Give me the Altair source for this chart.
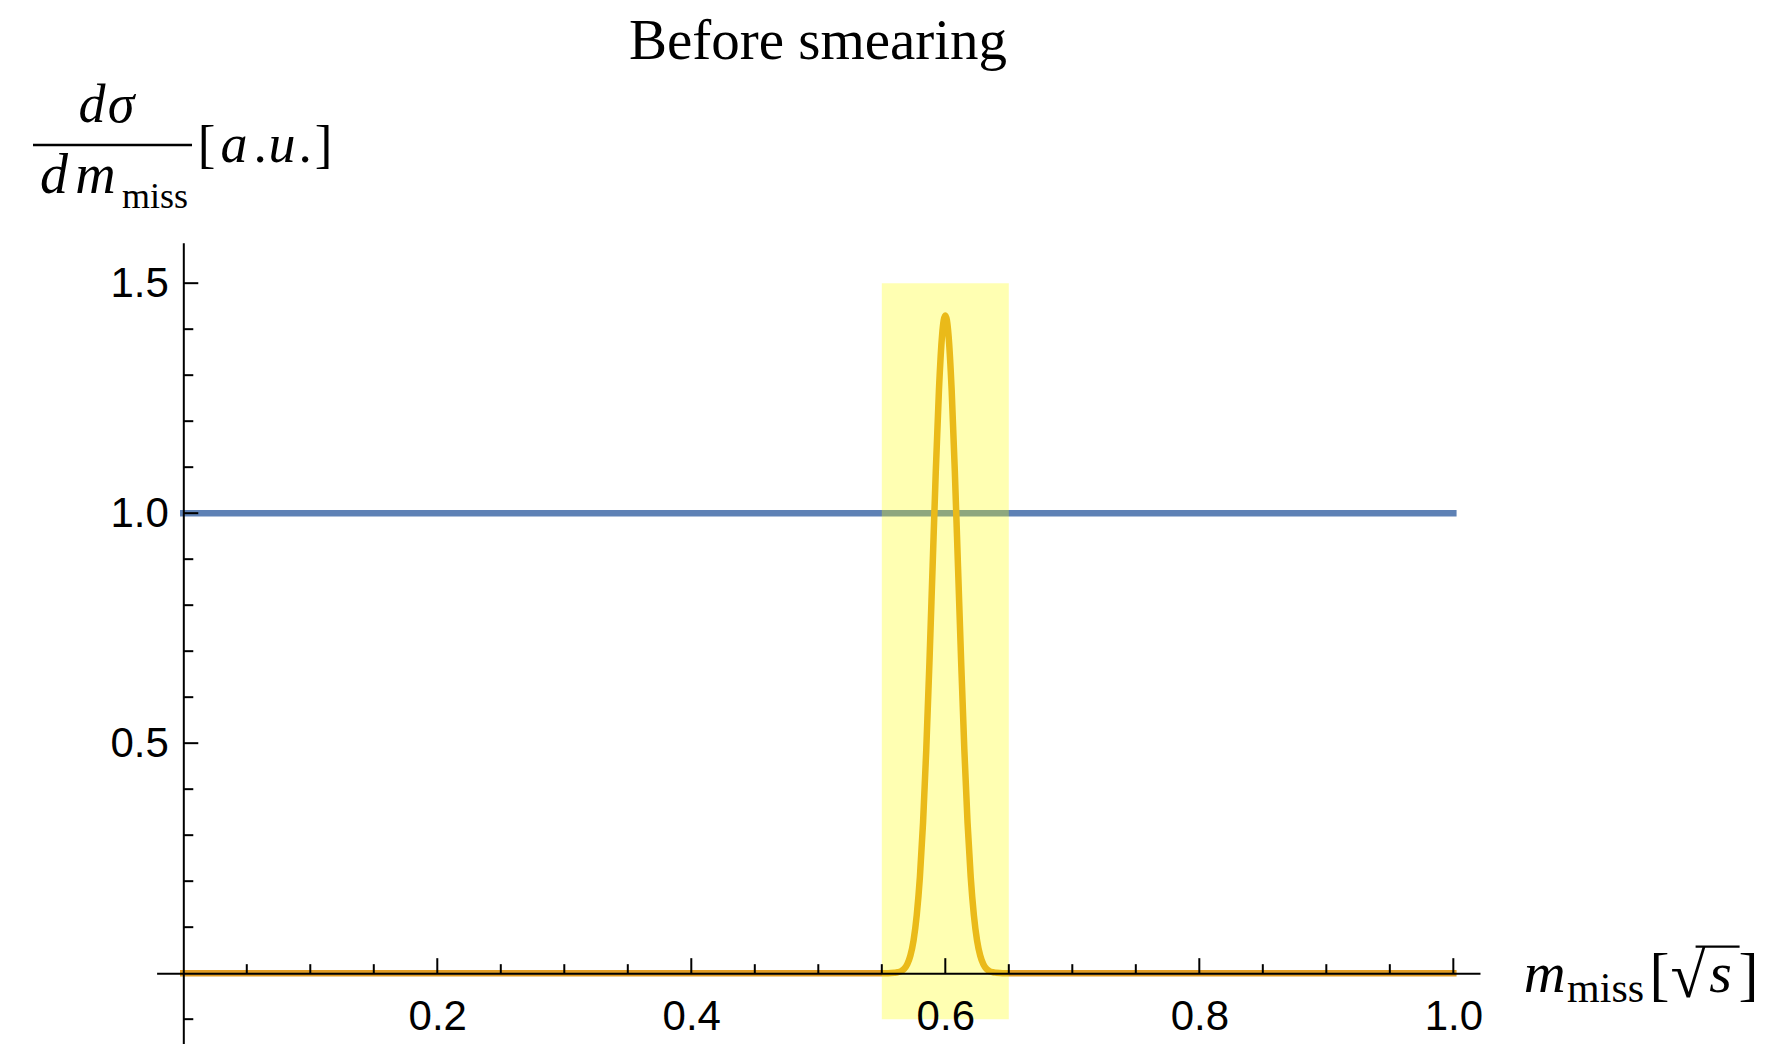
import altair as alt
import pandas as pd

# ---------------- data ----------------
title_text = "Before smearing"

# blue flat curve
blue_x = [0.0, 1.0]
blue_y = [1.0, 1.0]

# orange curve (flat with a narrow peak at 0.6)
orange_x = [0.0, 0.55, 0.555, 0.56, 0.5625, 0.565, 0.5675, 0.57, 0.5725, 0.575,
            0.5775, 0.58, 0.5825, 0.585, 0.5875, 0.59, 0.5925, 0.595, 0.5975, 0.6,
            0.6025, 0.605, 0.6075, 0.61, 0.6125, 0.615, 0.6175, 0.62, 0.6225, 0.625,
            0.6275, 0.63, 0.6325, 0.635, 0.6375, 0.64, 0.645, 0.65, 1.0]
orange_y = [0.0, 0.0, 0.0, 0.001, 0.002, 0.004, 0.009, 0.019, 0.038, 0.071,
            0.126, 0.209, 0.328, 0.485, 0.675, 0.884, 1.091, 1.268, 1.388, 1.430,
            1.388, 1.268, 1.091, 0.884, 0.675, 0.485, 0.328, 0.209, 0.126, 0.071,
            0.038, 0.019, 0.009, 0.004, 0.002, 0.001, 0.0, 0.0, 0.0]

# highlighted window
band_x = [0.55]
band_x2 = [0.65]
band_y = [-0.1]
band_y2 = [1.5]

# ticks
x_label_values = [0.2, 0.4, 0.6, 0.8, 1.0]
x_major_ticks = [0.2, 0.4, 0.6, 0.8, 1.0]
x_minor_ticks = [0.05, 0.1, 0.15, 0.25, 0.3, 0.35, 0.45, 0.5, 0.55, 0.65, 0.7,
                 0.75, 0.85, 0.9, 0.95]
y_label_values = [0.5, 1.0, 1.5]
y_major_ticks = [0.5, 1.0, 1.5]
y_minor_ticks = [-0.1, 0.1, 0.2, 0.3, 0.4, 0.6, 0.7, 0.8, 0.9, 1.1, 1.2, 1.3, 1.4]

# ---------------- chart ----------------
W, H = 1323.4, 801
xs = alt.Scale(domain=[-0.021, 1.021], nice=False, zero=False)
ys = alt.Scale(domain=[-0.1533, 1.588], nice=False, zero=False)

x_axis = alt.Axis(values=x_label_values, format=".1f", title=None, orient="bottom",
                  offset=-70.5, ticks=False, labelPadding=23,
                  labelFontSize=42, labelFont="Liberation Sans", labelColor="black",
                  domainColor="black", domainWidth=2, grid=False, zindex=1,
                  labelFlush=False, labelOverlap=False)
y_axis = alt.Axis(values=y_label_values, format=".1f", title=None, orient="left",
                  offset=-26.7, ticks=False, labelPadding=15,
                  labelFontSize=42, labelFont="Liberation Sans", labelColor="black",
                  domainColor="black", domainWidth=2, grid=False, zindex=1,
                  labelFlush=False, labelOverlap=False)


def X(f):
    return alt.X(f, scale=xs, axis=x_axis)


def Y(f):
    return alt.Y(f, scale=ys, axis=y_axis)


blue = alt.Chart(pd.DataFrame({"x": blue_x, "y": blue_y})).mark_line(
    color="#5E81B5", strokeWidth=6.5, strokeCap="square"
).encode(x=X("x:Q"), y=Y("y:Q"))

orange = alt.Chart(pd.DataFrame({"x": orange_x, "y": orange_y})).mark_line(
    color="#E19C24", strokeWidth=6.5, strokeCap="square", interpolate="monotone"
).encode(x=X("x:Q"), y=Y("y:Q"))

band = alt.Chart(pd.DataFrame({"x": band_x, "x2": band_x2, "y": band_y, "y2": band_y2})).mark_rect(
    color="#FFFF00", opacity=0.3
).encode(x=X("x:Q"), x2="x2:Q", y=Y("y:Q"), y2="y2:Q")


def xticks(vals, size):
    return alt.Chart(pd.DataFrame({"v": vals})).mark_tick(
        orient="vertical", size=size, thickness=2, color="black", opacity=1,
        yOffset=-size / 2
    ).encode(
        x=X("v:Q"),
        y=alt.YDatum(0, scale=ys, axis=y_axis),
    )


def yticks(vals, size):
    return alt.Chart(pd.DataFrame({"v": vals})).mark_tick(
        orient="horizontal", size=size, thickness=2, color="black", opacity=1,
        xOffset=size / 2
    ).encode(
        y=Y("v:Q"),
        x=alt.XDatum(0, scale=xs, axis=x_axis),
    )


def txt(t, x, y, size, style="normal", align="center", font="Liberation Serif"):
    return alt.Chart(pd.DataFrame({"t": [t]})).mark_text(
        font=font, fontSize=size, fontStyle=style, align=align,
        baseline="alphabetic", color="black"
    ).encode(x=alt.value(x), y=alt.value(y), text="t:N")


def hline(x1, x2, y, w):
    return alt.Chart(pd.DataFrame({"t": [0]})).mark_rule(
        color="black", strokeWidth=w
    ).encode(x=alt.value(x1), x2=alt.value(x2), y=alt.value(y))


texts = [
    txt(title_text, 661.4, -183.5, 57),
    # y label: d sigma / d m_miss [a.u.]
    txt("d", -64.6, -120.7, 54, style="italic"),
    txt("σ", -35.6, -120.7, 54, style="italic"),
    hline(-123.6, 35.4, -97.7, 2.5),
    txt("d", -102.6, -49.7, 56, style="italic"),
    txt("m", -61.1, -49.7, 56, style="italic"),
    txt("miss", -34.6, -34.7, 36, align="left"),
    txt("[", 49.9, -80.7, 53),
    txt("a", 77.4, -80.7, 54, style="italic"),
    txt(".", 103.4, -80.7, 53),
    txt("u", 125.4, -80.7, 54, style="italic"),
    txt(".", 148.4, -80.7, 53),
    txt("]", 166.9, -80.7, 53),
    # x label: m_miss [sqrt s]
    txt("m", 1388, 749, 58, style="italic"),
    txt("miss", 1449, 759, 42),
    txt("[", 1503, 751, 60),
    txt("√", 1549, 754, 64, align="right"),
    hline(1539, 1583, 704, 2.2),
    txt("s", 1564, 749, 58, style="italic"),
    txt("]", 1592, 751, 60),
]

chart = alt.layer(
    blue, orange, band,
    xticks(x_major_ticks, 15), xticks(x_minor_ticks, 9),
    yticks(y_major_ticks, 15), yticks(y_minor_ticks, 10),
    *texts,
).properties(
    width=W, height=H,
    autosize=alt.AutoSizeParams(type="none"),
    padding={"left": 148.6, "top": 234.7, "right": 280, "bottom": 0},
).configure_view(stroke=None)

chart.save("out.html", embed_options={"renderer": "svg", "actions": False})
